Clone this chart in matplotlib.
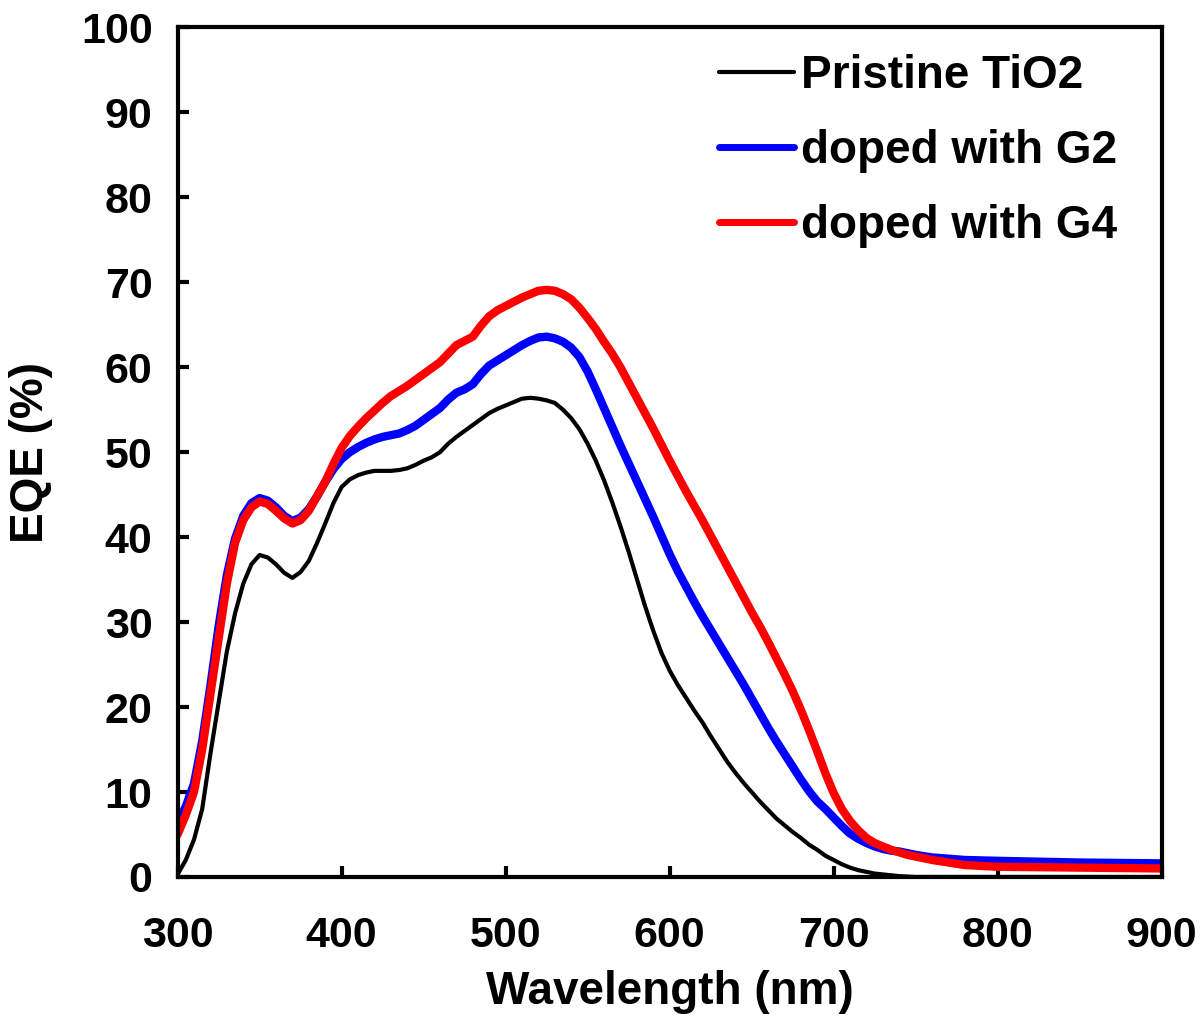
import matplotlib
matplotlib.use('Agg')
import matplotlib.pyplot as plt
from matplotlib.ticker import MultipleLocator

plt.rcParams['font.family'] = 'Liberation Sans'
plt.rcParams['font.weight'] = 'bold'

# Longitudes de onda (nm)
wl = [300, 305, 310, 315, 320, 325, 330, 335, 340, 345, 350, 355, 360, 365, 370, 375,
      380, 385, 390, 395, 400, 405, 410, 415, 420, 425, 430, 435, 440, 445, 450, 455,
      460, 465, 470, 475, 480, 485, 490, 495, 500, 505, 510, 515, 520, 525, 530, 535,
      540, 545, 550, 555, 560, 565, 570, 575, 580, 585, 590, 595, 600, 605, 610, 615,
      620, 625, 630, 635, 640, 645, 650, 655, 660, 665, 670, 675, 680, 685, 690, 695,
      700, 705, 710, 715, 720, 725, 730, 735, 740, 745, 750, 760, 780, 800, 850, 900]

# EQE (%) de cada muestra
pristine = [0.3, 2.0, 4.4, 8.0, 14.5, 20.5, 26.5, 31.0, 34.5, 36.8, 37.9, 37.6, 36.8, 35.8, 35.2, 35.9,
            37.2, 39.3, 41.6, 44.0, 45.9, 46.8, 47.3, 47.6, 47.8, 47.8, 47.8, 47.9, 48.1, 48.5, 49.0, 49.4,
            50.0, 51.0, 51.8, 52.5, 53.2, 53.9, 54.6, 55.1, 55.5, 55.9, 56.3, 56.4, 56.3, 56.1, 55.8, 55.0,
            54.0, 52.7, 51.0, 49.0, 46.7, 44.1, 41.3, 38.3, 35.1, 31.9, 29.0, 26.4, 24.3, 22.6, 21.1, 19.6,
            18.2, 16.6, 15.1, 13.6, 12.3, 11.1, 10.0, 8.9, 7.9, 6.9, 6.1, 5.3, 4.6, 3.8, 3.2, 2.5,
            2.0, 1.5, 1.1, 0.8, 0.6, 0.4, 0.3, 0.2, 0.1, 0.05, 0, 0, 0, 0, 0, 0]
g2 = [6.3, 8.3, 11.0, 16.0, 22.5, 29.5, 35.5, 39.8, 42.5, 44.0, 44.6, 44.3, 43.5, 42.5, 41.9, 42.3,
      43.3, 44.8, 46.5, 48.0, 49.2, 50.0, 50.6, 51.1, 51.5, 51.8, 52.0, 52.2, 52.6, 53.1, 53.8, 54.5,
      55.2, 56.2, 57.0, 57.4, 58.0, 59.2, 60.2, 60.8, 61.4, 62.0, 62.6, 63.1, 63.5, 63.6, 63.4, 63.0,
      62.3, 61.2, 59.5, 57.4, 55.2, 53.0, 50.8, 48.7, 46.6, 44.5, 42.4, 40.2, 38.0, 36.0, 34.2, 32.4,
      30.7, 29.1, 27.5, 25.9, 24.3, 22.7, 21.0, 19.3, 17.6, 16.0, 14.5, 13.0, 11.5, 10.1, 8.9, 8.0,
      7.0, 6.0, 5.1, 4.5, 4.0, 3.6, 3.3, 3.1, 3.0, 2.8, 2.6, 2.3, 2.0, 1.9, 1.7, 1.6]
g4 = [5.0, 7.3, 10.0, 15.0, 21.5, 28.0, 34.5, 39.3, 42.0, 43.5, 44.2, 43.9, 43.1, 42.2, 41.6, 42.0,
      43.1, 44.8, 46.5, 48.6, 50.5, 51.9, 53.0, 54.0, 54.9, 55.8, 56.6, 57.2, 57.8, 58.5, 59.2, 59.9,
      60.6, 61.6, 62.6, 63.1, 63.6, 64.9, 66.0, 66.7, 67.2, 67.7, 68.2, 68.6, 69.0, 69.1, 69.0, 68.6,
      68.0, 67.0, 65.8, 64.5, 63.0, 61.6, 60.0, 58.2, 56.4, 54.6, 52.8, 50.9, 49.0, 47.2, 45.4, 43.7,
      42.0, 40.2, 38.4, 36.6, 34.8, 33.0, 31.2, 29.5, 27.7, 25.8, 23.9, 21.9, 19.7, 17.3, 14.8, 12.2,
      9.9, 8.0, 6.6, 5.5, 4.6, 4.0, 3.6, 3.2, 2.9, 2.6, 2.4, 2.0, 1.4, 1.2, 1.1, 1.0]

fig = plt.figure(figsize=(12, 10.15), dpi=100)
ax = fig.add_axes([0.148, 0.136, 0.820, 0.837])

ax.plot(wl, pristine, color='black', linewidth=3, label='Pristine TiO2',
        solid_joinstyle='round', solid_capstyle='round')
ax.plot(wl, g2, color='#0000ff', linewidth=6, label='doped with G2',
        solid_joinstyle='round', solid_capstyle='round')
ax.plot(wl, g4, color='#ff0000', linewidth=6, label='doped with G4',
        solid_joinstyle='round', solid_capstyle='round')

ax.set_xlim(300, 900)
ax.set_ylim(0, 100)
ax.xaxis.set_major_locator(MultipleLocator(100))
ax.yaxis.set_major_locator(MultipleLocator(10))

for s in ax.spines.values():
    s.set_linewidth(3)
ax.tick_params(direction='in', length=8, width=3, labelsize=31)
ax.tick_params(axis='x', pad=28)
ax.tick_params(axis='y', pad=18)

ax.set_xlabel('Wavelength (nm)', fontsize=33, fontweight='bold', labelpad=10)
ax.set_ylabel('EQE (%)', fontsize=33, fontweight='bold', labelpad=20)

leg = ax.legend(loc='upper right', bbox_to_anchor=(0.997, 1.017), frameon=False, fontsize=33,
                handlelength=1.65, handletextpad=0.15, labelspacing=0.67)
for line in leg.get_lines():
    line.set_linewidth(5 if line.get_color() != 'black' else 3)
    line.set_solid_capstyle('round')

plt.savefig('out.png', dpi=100)
